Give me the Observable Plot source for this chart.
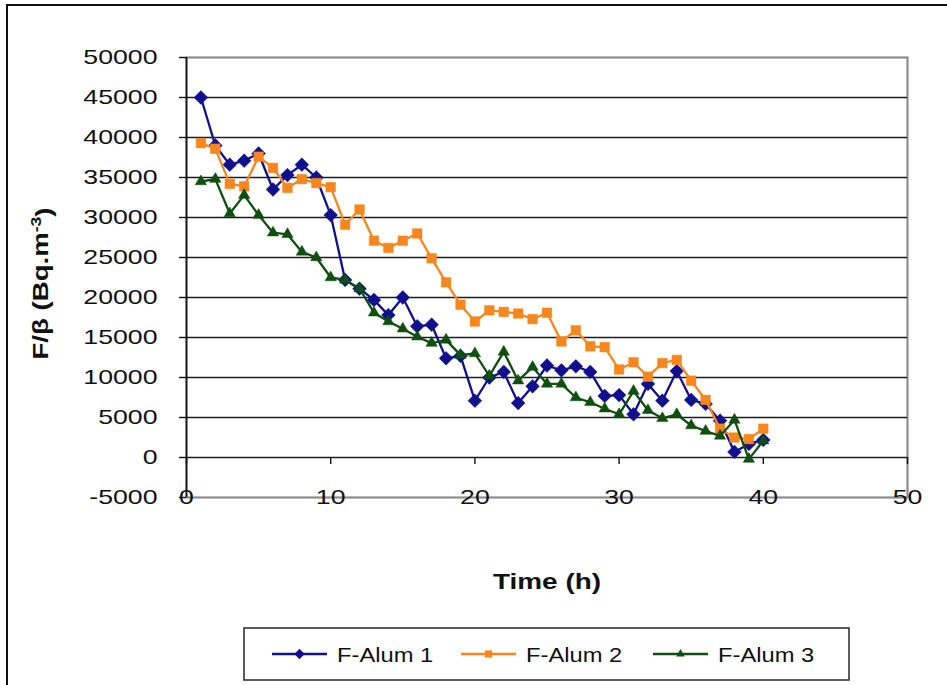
<!DOCTYPE html>
<html>
<head>
<meta charset="utf-8">
<script src="https://cdn.jsdelivr.net/npm/d3@7"></script>
<script src="https://cdn.jsdelivr.net/npm/@observablehq/plot@0.6"></script>
<style>
  html, body { margin: 0; padding: 0; background: #fff; }
  body { width: 947px; height: 685px; position: relative; overflow: hidden; font-family: "Liberation Sans", Arial, sans-serif; }
  #frame { position: absolute; left: 6px; top: 4px; width: 1000px; height: 760px; border-top: 2px solid #111; border-left: 2px solid #111; }
  #chart { position: absolute; left: 0; top: 0; }
  #legend { position: absolute; left: 243px; top: 627px; }
</style>
</head>
<body>
<div id="frame"></div>
<div id="chart"></div>
<div id="legend"></div>
<script>
// ---- data ----
const time = [1,2,3,4,5,6,7,8,9,10,11,12,13,14,15,16,17,18,19,20,21,22,23,24,25,26,27,28,29,30,31,32,33,34,35,36,37,38,39,40];
const alum1 = [45000,39000,36600,37100,38000,33500,35300,36600,35000,30300,22200,21100,19700,17800,20000,16400,16600,12400,12700,7100,10000,10700,6800,8900,11500,10900,11400,10700,7700,7800,5400,9200,7100,10800,7200,6700,4600,700,1700,2200];
const alum2 = [39300,38600,34200,33900,37600,36200,33700,34800,34300,33800,29100,31000,27100,26200,27100,28000,24900,21900,19100,17000,18400,18200,18000,17300,18100,14500,15900,13900,13800,11000,11900,10100,11800,12200,9600,7200,3600,2500,2300,3600];
const alum3 = [34500,34800,30500,32800,30300,28100,27900,25700,25000,22500,22200,21100,18100,17000,16100,15100,14300,14700,12800,13000,10200,13200,9600,11300,9200,9200,7500,6900,6100,5400,8300,5900,4900,5400,4000,3300,2700,4700,-200,2100];
const seriesNames = ["F-Alum 1", "F-Alum 2", "F-Alum 3"];
const yTicks = [-5000,0,5000,10000,15000,20000,25000,30000,35000,40000,45000,50000];
const xTicks = [0,10,20,30,40,50];
const xTitle = "Time (h)";
const yTitle = "F/β (Bq.m-3)";

const colors = ["#10108e", "#f7861c", "#0f4f0f"];
const symbols = ["diamond2", "square", "triangle"];
const radii = [6.2, 5.4, 4.2];
const values = [alum1, alum2, alum3];

const rows = values.map((vals, s) => time.map((t, i) => ({t, v: vals[i], s: seriesNames[s]})));
const gridVals = yTicks.filter(d => d >= 0 && d < d3.max(yTicks));

const seriesMarks = rows.flatMap((data, s) => [
  Plot.line(data, {x: "t", y: "v", stroke: colors[s], strokeWidth: 2.3}),
  Plot.dot(data, {x: "t", y: "v", symbol: symbols[s], r: radii[s], fill: colors[s], stroke: colors[s], strokeWidth: 0.5})
]);

const chart = Plot.plot({
  width: 947,
  height: 610,
  marginLeft: 186,
  marginRight: 40,
  marginTop: 57,
  marginBottom: 113,
  x: {domain: [d3.min(xTicks), d3.max(xTicks)], axis: null},
  y: {domain: [d3.min(yTicks), d3.max(yTicks)], axis: null},
  style: {fontFamily: "'Liberation Sans', Arial, sans-serif", background: "transparent", color: "#111"},
  marks: [
    Plot.frame({stroke: "#8c8c8c", strokeWidth: 2.2}),
    Plot.ruleY(gridVals, {stroke: "#1c1c1c", strokeWidth: 1.5}),
    Plot.ruleX([0], {stroke: "#111", strokeWidth: 1.6}),
    Plot.ruleY(yTicks, {x1: 0, x2: 0, insetLeft: -7, stroke: "#111", strokeWidth: 1.4}),
    Plot.ruleX(xTicks, {y1: 0, y2: 0, insetBottom: -7, stroke: "#111", strokeWidth: 1.4}),
    Plot.text(yTicks, {x: 0, y: d => d, text: d => String(d), textAnchor: "end", dx: -29, fontSize: 21, fill: "#111"}),
    Plot.text(xTicks, {x: d => d, y: d3.min(yTicks), text: d => String(d), lineAnchor: "middle", fontSize: 21, fill: "#111"}),
    Plot.text([xTitle], {frameAnchor: "bottom", text: d => d, lineAnchor: "middle", dy: 84, fontSize: 22, fontWeight: "bold", fill: "#111"}),
    Plot.text([yTitle], {frameAnchor: "left", text: d => d, rotate: -90, lineAnchor: "middle", dx: -146, dy: 6, fontSize: 22, fontWeight: "bold", fill: "#111"}),
    ...seriesMarks
  ]
});
document.getElementById("chart").appendChild(chart);

// stretch text horizontally like the reference; superscript in the y title
const stretch = 1.27;
chart.querySelectorAll("text").forEach(el => {
  const full = el.textContent;
  if (full === yTitle) {
    const t = d3.select(el);
    const m = full.match(/^(.*)(-3)\)$/);
    if (m) {
      t.text(null);
      t.append("tspan").text(m[1]);
      t.append("tspan").attr("dy", "-0.45em").attr("font-size", 14).text(m[2]);
      t.append("tspan").attr("dy", "0.45em").text(")");
    }
    el.setAttribute("text-anchor", "start");
    el.setAttribute("textLength", 152);
    el.setAttribute("lengthAdjust", "spacingAndGlyphs");
    const b = el.getBBox();
    const x0 = parseFloat(el.getAttribute("x")) || 0;
    el.setAttribute("x", x0 - (b.x + b.width / 2));
  } else if (full.length) {
    const L = el.getComputedTextLength();
    el.setAttribute("textLength", L * stretch);
    el.setAttribute("lengthAdjust", "spacingAndGlyphs");
  }
});

// ---- legend ----
const lw = 607, lh = 54;
const lsvg = d3.select("#legend").append("svg").attr("width", lw).attr("height", lh);
lsvg.append("rect").attr("x", 1).attr("y", 1).attr("width", lw - 2).attr("height", lh - 2)
  .attr("fill", "#fff").attr("stroke", "#333").attr("stroke-width", 1.6);
const itemX = [29, 218, 410];
const symMap = {diamond2: d3.symbolDiamond2, square: d3.symbolSquare, triangle: d3.symbolTriangle};
seriesNames.forEach((name, s) => {
  const g = lsvg.append("g").attr("transform", `translate(${itemX[s]},${lh / 2})`);
  g.append("line").attr("x1", 0).attr("x2", 55).attr("y1", 0).attr("y2", 0).attr("stroke", colors[s]).attr("stroke-width", 2.3);
  const r = radii[s] * 0.75;
  g.append("path").attr("transform", "translate(27.5,0)").attr("d", d3.symbol(symMap[symbols[s]], Math.PI * r * r)()).attr("fill", colors[s]);
  const tx = g.append("text").attr("x", 65).attr("y", 0).attr("dy", "0.36em")
    .attr("font-size", 21).attr("fill", "#111").attr("font-family", "'Liberation Sans', Arial, sans-serif").text(name);
  const node = tx.node();
  const L = node.getComputedTextLength();
  node.setAttribute("textLength", L * 1.13);
  node.setAttribute("lengthAdjust", "spacingAndGlyphs");
});
</script>
</body>
</html>
